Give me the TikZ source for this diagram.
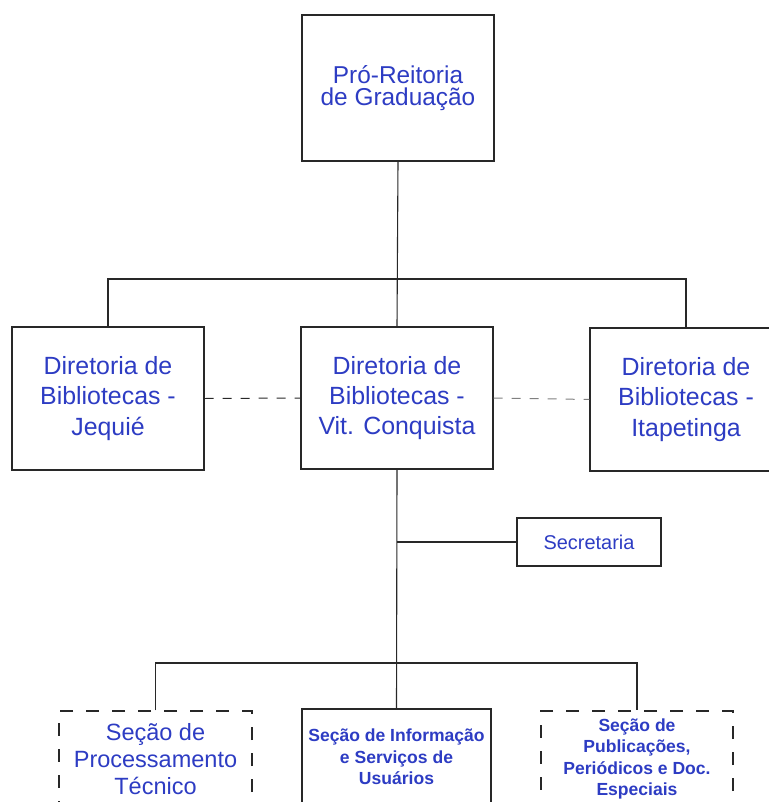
\documentclass[tikz,border=0pt]{standalone}
\usepackage{fontspec}
\setmainfont{Liberation Sans}
\definecolor{txtblue}{RGB}{45,60,195}
\definecolor{linegray}{RGB}{40,40,40}
\begin{document}
\begin{tikzpicture}[x=1bp,y=-1bp, line width=1.1pt, draw=linegray,
  box/.style={draw=linegray, rectangle, inner sep=0pt, align=center, text=txtblue},
  dbox/.style={box, dash pattern=on 13bp off 13bp},
  lvtop/.style={font=\fontsize{24.5}{22.5}\selectfont},
  lvtwo/.style={font=\fontsize{25}{30.5}\selectfont},
  lvsec/.style={font=\fontsize{23.6}{27.5}\selectfont},
  lvsmall/.style={font=\bfseries\fontsize{17.6}{21.5}\selectfont},
  conn/.style={draw=linegray, line width=1.1pt},
  dconn/.style={draw=linegray, line width=1pt, dash pattern=on 9bp off 9bp}]
\useasboundingbox (0,0) rectangle (769,802);
\clip (0,0) rectangle (769,802);

\node[box, lvtop, minimum width=192bp, minimum height=146bp] (top) at (398,88) {Pró-Reitoria\\de Graduação};

\node[box, lvtwo, minimum width=192bp, minimum height=143bp] (jeq) at (108,398.5) {Diretoria de\\Bibliotecas -\\Jequié};
\node[box, lvtwo, minimum width=192bp, minimum height=142bp] (mid) at (397,398) {Diretoria de\\Bibliotecas -\\Vit. Conquista};
\node[box, lvtwo, minimum width=192bp, minimum height=143bp] (itap) at (686,399.5) {Diretoria de\\Bibliotecas -\\Itapetinga};

\node[box, font=\fontsize{20}{24}\selectfont, minimum width=144bp, minimum height=48bp] (sec) at (589,542) {Secretaria};

\node[dbox, lvsec, minimum width=193bp, minimum height=96bp] (sl) at (155.5,759) {Seção de\\Processamento\\Técnico};
\node[box, lvsmall, minimum width=189bp, minimum height=96bp] (sm) at (396.5,757) {Seção de Informação\\e Serviços de\\Usuários};
\node[dbox, lvsmall, minimum width=192bp, minimum height=96bp] (sr) at (637,759) {Seção de\\Publicações,\\Periódicos e Doc.\\Especiais};

\coordinate (bus1) at (397,279);
\coordinate (bus2) at (397,663);

\draw[conn] (top.south) -- (mid.north);
\draw[conn] (jeq.north) -- (jeq.north |- bus1) -- (itap.north |- bus1) -- (itap.north);
\draw[dconn] (jeq.east) -- (mid.west);
\draw[dconn, draw=gray] (mid.east) -- (itap.west);

\draw[conn] (mid.south) -- (sm.north);
\draw[conn] (mid.south |- sec.west) -- (sec.west);
\draw[conn] (sl.north) -- (sl.north |- bus2) -- (sr.north |- bus2) -- (sr.north);
\end{tikzpicture}
\end{document}
